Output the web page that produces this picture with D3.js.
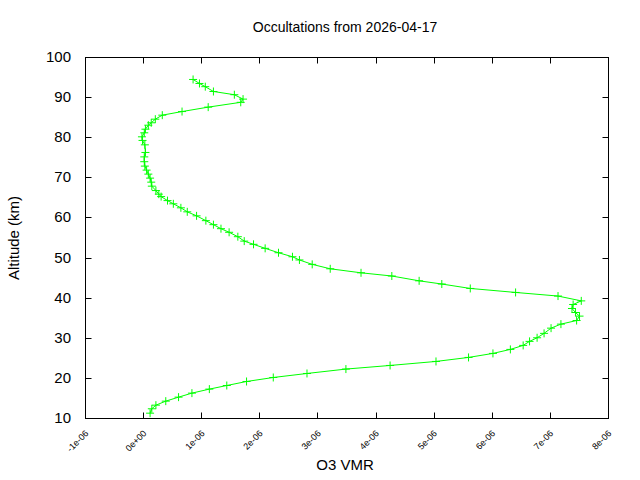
<!DOCTYPE html>
<html><head><meta charset="utf-8">
<script src="https://cdn.jsdelivr.net/npm/d3@7"></script>
<style>body{margin:0;background:#fff}svg{font-family:"Liberation Sans",Arial,sans-serif}</style>
</head><body><svg id="c" width="640" height="480"></svg>
<script>
const altitude=[94.4,93.4,92.6,91.4,90.6,89.5,88.7,87.5,86.4,85.5,84.5,83.6,83.0,82.0,81.1,80.1,79.2,78.1,76.2,75.1,73.9,72.8,71.8,70.8,69.8,68.8,67.8,66.7,65.8,65.2,64.2,63.4,62.4,61.4,60.4,59.2,58.2,57.2,56.3,55.2,54.1,53.3,52.3,51.2,50.2,49.4,48.3,47.2,46.2,45.4,44.2,43.4,42.3,41.3,40.4,39.2,38.3,37.3,36.3,35.4,34.3,33.4,32.4,31.1,30.0,29.1,28.1,27.1,26.1,25.1,24.1,23.1,22.2,21.1,20.1,19.1,18.1,17.2,16.2,15.2,14.2,13.2,12.3,11.2];
const vmrE6=[0.86,0.97,1.07,1.21,1.57,1.72,1.68,1.12,0.67,0.33,0.21,0.14,0.09,0.04,0.02,-0.02,-0.01,0.03,0.04,0.02,0.02,0.03,0.06,0.09,0.12,0.14,0.15,0.22,0.27,0.31,0.42,0.52,0.65,0.76,0.92,1.08,1.21,1.34,1.48,1.63,1.74,1.90,2.10,2.33,2.57,2.69,2.91,3.22,3.75,4.28,4.75,5.14,5.63,6.41,7.14,7.54,7.40,7.38,7.44,7.51,7.46,7.19,7.02,6.90,6.78,6.65,6.54,6.32,6.02,5.60,5.04,4.25,3.49,2.82,2.24,1.78,1.44,1.14,0.84,0.61,0.39,0.22,0.15,0.12];
const xTicks=[-1e-6,0,1e-6,2e-6,3e-6,4e-6,5e-6,6e-6,7e-6,8e-6];
const xTickLabels=["-1e-06","0e+00","1e-06","2e-06","3e-06","4e-06","5e-06","6e-06","7e-06","8e-06"];
const yTicks=[10,20,30,40,50,60,70,80,90,100];
const data=altitude.map((a,i)=>({alt:a,v:vmrE6[i]*1e-6}));
const L=85,R=608,T=57,B=418;
const svg=d3.select("#c");
const x=d3.scaleLinear().domain([-1e-6,8e-6]).range([L,R]);
const y=d3.scaleLinear().domain([10,100]).range([B,T]);
svg.append("rect").attr("x",L+.5).attr("y",T+.5).attr("width",R-L).attr("height",B-T).attr("fill","none").attr("stroke","#000");
const g=svg.append("g").attr("stroke","#000");
xTicks.forEach(t=>{const px=Math.round(x(t))+.5;
 g.append("line").attr("x1",px).attr("x2",px).attr("y1",B+.5).attr("y2",B-5.5);
 g.append("line").attr("x1",px).attr("x2",px).attr("y1",T+.5).attr("y2",T+6.5);});
yTicks.forEach(t=>{const py=Math.round(y(t))+.5;
 g.append("line").attr("x1",L+.5).attr("x2",L+6.5).attr("y1",py).attr("y2",py);
 g.append("line").attr("x1",R+.5).attr("x2",R-5.5).attr("y1",py).attr("y2",py);});
yTicks.forEach(t=>svg.append("text").attr("x",L-14).attr("y",y(t)+5).attr("text-anchor","end").attr("font-size",15).text(t));
xTicks.forEach((t,i)=>svg.append("text").attr("transform",`translate(${x(t)+4},${B+16}) rotate(-45)`).attr("text-anchor","end").attr("font-size",9).text(xTickLabels[i]));
svg.append("text").attr("x",345).attr("y",32).attr("text-anchor","middle").attr("font-size",14).text("Occultations from 2026-04-17");
svg.append("text").attr("x",345).attr("y",470).attr("text-anchor","middle").attr("font-size",15).text("O3 VMR");
svg.append("text").attr("transform","translate(19,238) rotate(-90)").attr("text-anchor","middle").attr("font-size",15).text("Altitude (km)");
svg.append("path").datum(data).attr("fill","none").attr("stroke","#00ff00").attr("stroke-width",1)
 .attr("d",d3.line().x(d=>x(d.v)).y(d=>y(d.alt)));
svg.append("g").attr("stroke","#00ff00").selectAll("path").data(data).join("path")
 .attr("d",d=>{const px=x(d.v),py=y(d.alt);return `M${px-4},${py}H${px+4}M${px},${py-4}V${py+4}`;});
</script></body></html>
